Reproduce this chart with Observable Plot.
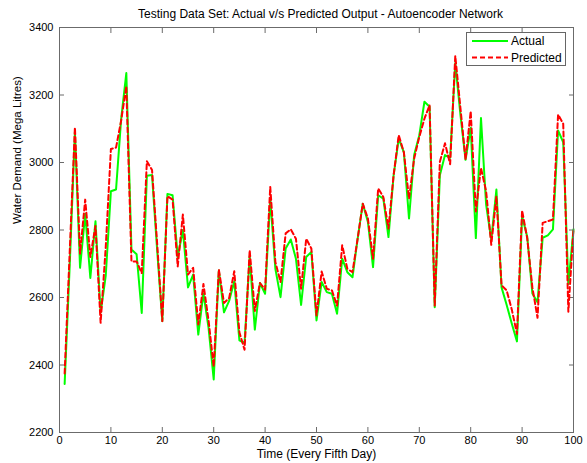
<!DOCTYPE html>
<html><head><meta charset="utf-8">
<script src="https://cdn.jsdelivr.net/npm/d3@7"></script>
<script src="https://cdn.jsdelivr.net/npm/@observablehq/plot@0.6"></script>
<style>
body{margin:0;background:#fff;font-family:"Liberation Sans",Arial,sans-serif;}
#wrap{position:relative;width:587px;height:463px;}
#title{position:relative;height:20px;font-size:12px;line-height:12px;}
#title span{position:absolute;left:64px;width:513px;top:8px;text-align:center;white-space:nowrap;}
#legend{position:absolute;left:466px;top:32px;width:100px;height:34px;background:#fff;border:1px solid #666;box-sizing:border-box;}
svg{display:block;}
</style></head>
<body>
<div id="wrap">
<div id="title"><span>Testing Data Set: Actual v/s Predicted Output - Autoencoder Network</span></div>
<div id="chart"></div>
<div id="legend"></div>
</div>
<script>
const titleText = "Testing Data Set: Actual v/s Predicted Output - Autoencoder Network";
const xLabel = "Time (Every Fifth Day)";
const yLabel = "Water Demand (Mega Litres)";
const seriesNames = ["Actual", "Predicted"];
const xTicks = [0,10,20,30,40,50,60,70,80,90,100];
const yTicks = [2200,2400,2600,2800,3000,3200,3400];
const days = d3.range(1, 101);
const actual = [2344,2700,3090,2688,2848,2658,2826,2555,2665,2915,
2920,3130,3265,2742,2728,2554,2961,2963,2740,2530,
2907,2903,2720,2800,2630,2668,2490,2612,2510,2357,
2680,2556,2590,2648,2473,2465,2722,2505,2643,2611,
2892,2685,2601,2745,2772,2715,2578,2720,2735,2532,
2646,2616,2611,2552,2715,2675,2660,2774,2878,2824,
2690,2903,2893,2779,2962,3071,3030,2834,3022,3081,
3180,3165,2571,2962,3022,3014,3295,3142,3008,3103,
2776,3132,2875,2771,2920,2630,2578,2522,2470,2840,
2780,2612,2586,2777,2784,2802,3095,3060,2640,2802];
const predicted = [2375,2740,3104,2730,2890,2720,2812,2525,2750,3040,
3044,3125,3226,2707,2707,2672,3004,2978,2760,2530,
2900,2890,2692,2846,2668,2688,2520,2640,2532,2395,
2683,2584,2598,2678,2497,2445,2740,2560,2643,2623,
2928,2705,2646,2790,2802,2774,2626,2774,2745,2547,
2677,2626,2621,2576,2755,2685,2675,2774,2878,2834,
2715,2923,2898,2804,2962,3081,3030,2893,3012,3076,
3130,3170,2576,3002,3057,2995,3316,3162,3008,3152,
2855,2984,2915,2756,2900,2636,2621,2564,2492,2858,
2775,2630,2540,2821,2826,2831,3142,3115,2558,2804];
const colors = ["#00ff00", "#ff0000"];

const rows = days.map((t, i) => ({t, actual: actual[i], pred: predicted[i]}));
const axisColor = "#6b6b6b";

const chart = Plot.plot({
  width: 587, height: 443,
  marginTop: 7, marginBottom: 31, marginLeft: 59, marginRight: 14,
  style: {fontFamily: "Liberation Sans, Arial, sans-serif", fontSize: "11px", color: "#000", background: "#fff"},
  x: {domain: [0, 100]},
  y: {domain: [2200, 3400]},
  marks: [
    Plot.axisX({anchor: "bottom", ticks: xTicks, tickSize: -5, tickPadding: 9, label: null, stroke: axisColor, fill: "#000", tickFormat: d => String(d)}),
    Plot.axisX({anchor: "top", ticks: xTicks, tickSize: -5, tickFormat: () => "", label: null, stroke: axisColor}),
    Plot.axisY({anchor: "left", ticks: yTicks, tickSize: -5, tickPadding: 11, label: null, stroke: axisColor, fill: "#000", tickFormat: d => String(d)}),
    Plot.axisY({anchor: "right", ticks: yTicks, tickSize: -5, tickFormat: () => "", label: null, stroke: axisColor}),
    Plot.line(rows, {x: "t", y: "actual", stroke: colors[0], strokeWidth: 2}),
    Plot.line(rows, {x: "t", y: "pred", stroke: colors[1], strokeWidth: 2, strokeDasharray: "5,3"}),
    Plot.frame({stroke: axisColor}),
    Plot.text([xLabel], {frameAnchor: "bottom", dy: 25, text: d => d, fontSize: 12, fill: "#000"}),
    Plot.text([yLabel], {frameAnchor: "left", dx: -42, dy: -6, rotate: -90, text: d => d, fontSize: 11.5, fill: "#000"})
  ]
});
document.getElementById("chart").appendChild(chart);

const lg = d3.select("#legend").append("svg").attr("width", 98).attr("height", 32)
  .style("font-family", "Liberation Sans, Arial, sans-serif").style("font-size", "12px");
seriesNames.forEach((name, i) => {
  const cy = 8 + i * 16.5;
  lg.append("line").attr("x1", 5).attr("x2", 41).attr("y1", cy).attr("y2", cy)
    .attr("stroke", colors[i]).attr("stroke-width", 2)
    .attr("stroke-dasharray", i === 1 ? "5,3" : null);
  lg.append("text").attr("x", 44).attr("y", cy).attr("dy", "0.35em").text(name);
});
</script>
</body></html>
